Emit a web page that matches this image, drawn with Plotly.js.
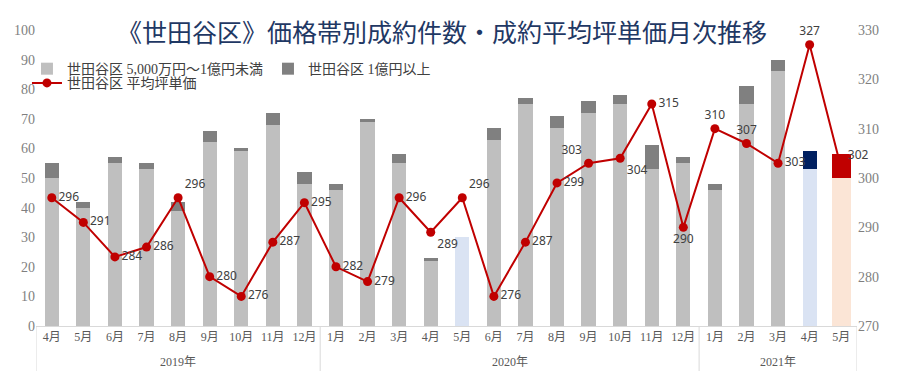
<!DOCTYPE html>
<html>
<head>
<meta charset="utf-8">
<script src="https://cdn.plot.ly/plotly-3.0.1.min.js"></script>
<style>html,body{margin:0;padding:0;background:#fff;}#chart{width:900px;height:371px;}</style>
</head>
<body>
<div id="chart"></div>
<script>
const yearLabels = ['2019年','2020年','2021年'];
const monthsPerYear = [9, 12, 5];
const months = ['4月','5月','6月','7月','8月','9月','10月','11月','12月',
  '1月','2月','3月','4月','5月','6月','7月','8月','9月','10月','11月','12月',
  '1月','2月','3月','4月','5月'];
const under1oku = [50,40,55,53,39,62,59,68,48, 46,69,55,22,30,63,75,67,72,75,53,55, 46,75,86,53,50];
const over1oku  = [5,2,2,2,3,4,1,4,4, 2,1,3,1,0,4,2,4,4,3,8,2, 2,6,4,6,8];
const avgTsubo  = [296,291,284,286,296,280,276,287,295, 282,279,296,289,296,276,287,299,303,304,315,290, 310,307,303,327,302];
const labelPos  = ['middle right','middle right','middle right','middle right','top right','middle right','middle right','middle right','middle right',
  'middle right','middle right','middle right','bottom right','top right','middle right','middle right','middle right','top left','bottom right','middle right','bottom center',
  'top center','top center','middle right','top center','top right'];

// build unique category keys (year + month) for ordering
const yearOf = [];
yearLabels.forEach((y,k)=>{ for(let j=0;j<monthsPerYear[k];j++) yearOf.push(y); });
const x = months.map((m,i)=> yearOf[i] + m);

const lightCol = months.map((m,i)=> i===13 || i===24 ? '#dae3f3' : (i===25 ? '#fbe5d6' : '#bfbfbf'));
const darkCol  = months.map((m,i)=> i===24 ? '#002060' : (i===25 ? '#c00000' : '#808080'));
const widths   = months.map((m,i)=> i===25 ? 0.6 : 0.45);

const serif = 'Liberation Serif, Noto Sans CJK JP, serif';

const traces = [
  {type:'bar', name:'世田谷区 5,000万円～1億円未満', x:x, y:under1oku, width:widths,
   marker:{color:lightCol}, hoverinfo:'skip'},
  {type:'bar', name:'世田谷区 1億円以上', x:x, y:over1oku, width:widths,
   marker:{color:darkCol}, hoverinfo:'skip'},
  {type:'scatter', mode:'lines+markers+text', name:'世田谷区 平均坪単価', x:x, y:avgTsubo, yaxis:'y2',
   legend:'legend2',
   line:{color:'#c00000', width:2}, marker:{color:'#c00000', size:9},
   text:avgTsubo.map(String), textposition:labelPos,
   textfont:{family:'Noto Sans, DejaVu Sans, sans-serif', size:12, color:'#404040'}, cliponaxis:false}
];

// year group labels and dividers, positioned by category index
const annotations = [];
const shapes = [];
let start = 0;
yearLabels.forEach((y,k)=>{
  const end = start + monthsPerYear[k] - 1;
  annotations.push({text:y, xref:'x', yref:'paper', x:(start+end)/2, y:-0.123, yanchor:'middle',
    showarrow:false, font:{family:serif, size:12, color:'#595959'}});
  shapes.push({type:'line', xref:'x', yref:'paper', x0:start-0.5, x1:start-0.5, y0:0, y1:-0.16,
    line:{color:'#d9d9d9', width:1}});
  start = end + 1;
});
shapes.push({type:'line', xref:'x', yref:'paper', x0:start-0.5, x1:start-0.5, y0:0, y1:-0.16,
  line:{color:'#d9d9d9', width:1}});

const tickFont = {family:serif, size:14, color:'#7f7f7f'};
const layout = {
  width:900, height:371,
  margin:{l:36, r:43, t:30, b:45, autoexpand:false},
  paper_bgcolor:'#ffffff', plot_bgcolor:'#ffffff',
  barmode:'stack',
  showlegend:true,
  title:{text:'《世田谷区》価格帯別成約件数・成約平均坪単価月次推移',
    font:{family:serif, size:25, color:'#1f3864'},
    x:442/900, xanchor:'center', y:1-33/371, yanchor:'middle', yref:'container'},
  legend:{orientation:'h', x:-0.011, y:0.922, yanchor:'top',
    traceorder:'normal',
    bgcolor:'rgba(0,0,0,0)', font:{family:serif, size:14, color:'#404040'},
    itemwidth:30},
  legend2:{orientation:'h', x:-0.011, y:0.874, yanchor:'top',
    bgcolor:'rgba(0,0,0,0)', font:{family:serif, size:14, color:'#404040'},
    itemwidth:30},
  xaxis:{type:'category', categoryorder:'array', categoryarray:x, range:[-0.5, x.length-0.5],
    tickmode:'array', tickvals:x, ticktext:months, tickangle:0, automargin:false,
    showline:true, linecolor:'#d9d9d9', linewidth:1,
    tickfont:{family:serif, size:12, color:'#595959'},
    ticks:'', showgrid:false, zeroline:false, fixedrange:true},
  yaxis:{range:[0,100], dtick:10, showgrid:false, zeroline:false, showline:false, automargin:false,
    tickfont:tickFont, ticks:''},
  yaxis2:{range:[270,330], dtick:10, overlaying:'y', side:'right', showgrid:false, zeroline:false,
    showline:false, automargin:false, tickfont:tickFont, ticks:''},
  annotations:annotations,
  shapes:shapes
};

Plotly.newPlot('chart', traces, layout, {displayModeBar:false, staticPlot:true});
</script>
</body>
</html>
